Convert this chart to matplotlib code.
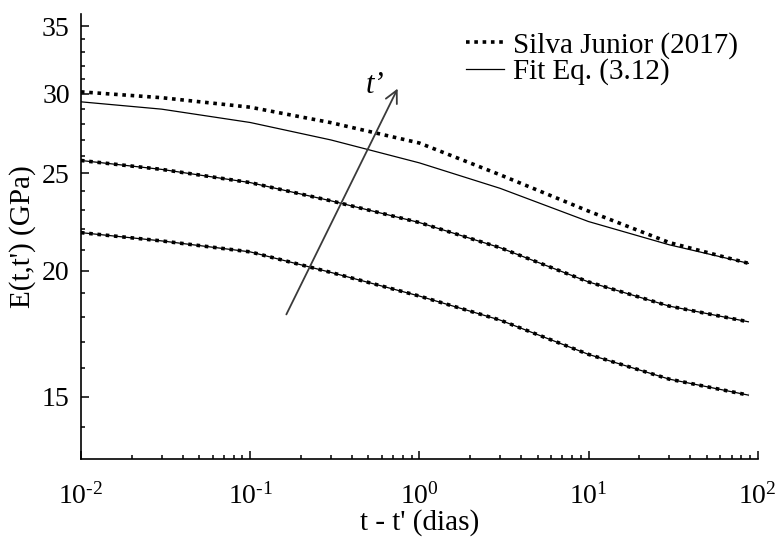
import numpy as np
import matplotlib
matplotlib.use("Agg")
import matplotlib.pyplot as plt
from matplotlib.ticker import FixedLocator, NullFormatter

plt.rcParams['font.family'] = ['Liberation Serif', 'DejaVu Serif']
plt.rcParams['mathtext.default'] = 'regular'

# tempo t - t' (dias)
t = [0.01, 0.03, 0.1, 0.3, 1, 3, 10, 30, 88]

# Silva Junior (2017) - tres idades t'
silva_1 = [21.83, 21.42, 20.89, 19.93, 18.88, 17.87, 16.52, 15.61, 15.05]
silva_2 = [25.75, 25.23, 24.48, 23.48, 22.34, 21.09, 19.50, 18.45, 17.80]
silva_3 = [30.13, 29.73, 29.09, 28.08, 26.80, 24.92, 22.93, 21.34, 20.35]

# Ajuste Eq. (3.12)
fit_1 = [21.83, 21.42, 20.89, 19.93, 18.88, 17.87, 16.52, 15.61, 15.05]
fit_2 = [25.75, 25.23, 24.48, 23.48, 22.34, 21.09, 19.50, 18.45, 17.80]
fit_3 = [29.45, 28.96, 28.09, 26.99, 25.61, 24.16, 22.39, 21.23, 20.35]

fig = plt.figure(figsize=(7.78, 5.42), dpi=100)
ax = fig.add_axes([0.104, 0.153, 0.870, 0.821])

dots = dict(color='black', lw=2.6, linestyle=(0, (1, 1.3)), dash_capstyle='butt')
solid = dict(color='black', lw=0.9)

for i, (s, f) in enumerate([(silva_1, fit_1), (silva_2, fit_2), (silva_3, fit_3)]):
    ax.plot(t, s, label='Silva Junior (2017)' if i == 0 else None, **dots)
    ax.plot(t, f, label='Fit Eq. (3.12)' if i == 0 else None, **solid)

ax.set_xscale('log')
ax.set_yscale('log')
ax.set_xlim(0.01, 100)
ax.set_ylim(13, 36)

ax.yaxis.set_major_locator(FixedLocator([15, 20, 25, 30, 35]))
ax.yaxis.set_minor_locator(FixedLocator([14, 16, 17, 18, 19, 21, 22, 23, 24,
                                         26, 27, 28, 29, 31, 32, 33, 34]))
ax.set_yticklabels(['15', '20', '25', '30', '35'])
ax.yaxis.set_minor_formatter(NullFormatter())
ax.set_xticks([0.01, 0.1, 1, 10, 100])
ax.set_xticklabels(['$10^{\u20102}$', '$10^{\u20101}$', '$10^{0}$', '$10^{1}$', '$10^{2}$'])

for side in ['top', 'right']:
    ax.spines[side].set_visible(False)
for side in ['left', 'bottom']:
    ax.spines[side].set_linewidth(1.2)
ax.tick_params(which='both', direction='in', width=1.1, labelsize=20)
ax.tick_params(which='major', length=6)
ax.tick_params(which='minor', length=3)
ax.tick_params(axis='x', pad=17)
ax.tick_params(axis='y', pad=8)

ax.set_xlabel("t - t' (dias)", fontsize=21, labelpad=0)
ax.set_ylabel("E(t,t') (GPa)", fontsize=21, labelpad=4)

ax.annotate('', xy=(0.757, 30.53), xytext=(0.161, 18.0),
            arrowprops=dict(arrowstyle='->', color='#3a3a3a', lw=1.3, mutation_scale=22))
ax.text(0.55, 30.6, 't\u2019', fontsize=22, style='italic', ha='center', va='center')

ax.legend(loc='upper left', bbox_to_anchor=(0.543, 1.0), frameon=False, fontsize=21,
          handlelength=1.3, handletextpad=0.3, labelspacing=0.0, borderaxespad=0.2)

fig.savefig('out.png', dpi=100)
